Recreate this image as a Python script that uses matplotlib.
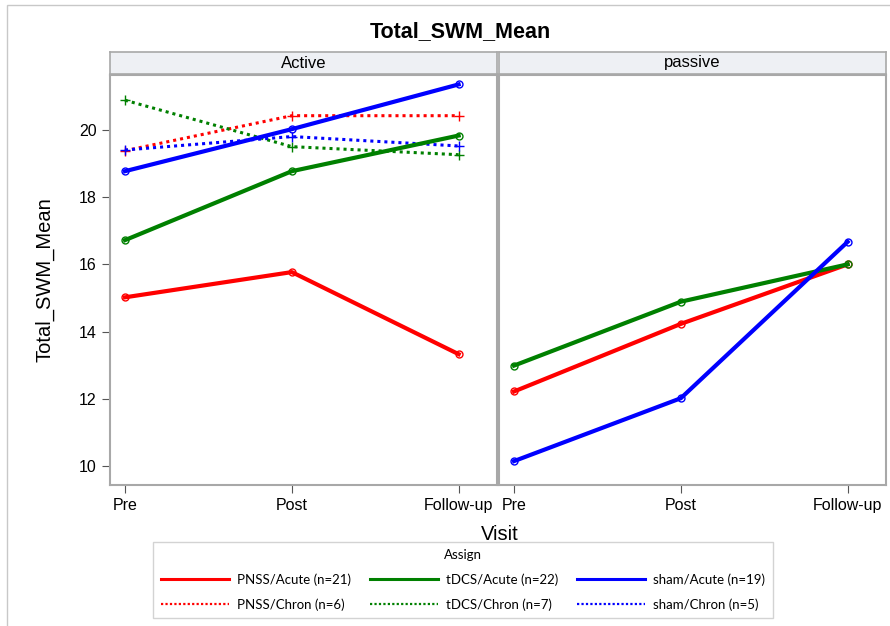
import numpy as np
import matplotlib
matplotlib.use("Agg")
import matplotlib.pyplot as plt
from matplotlib.lines import Line2D

plt.rcParams['font.family'] = ['Liberation Sans', 'DejaVu Sans']

visits = ["Pre", "Post", "Follow-up"]
panels = ["Active", "passive"]
groups = ["PNSS", "tDCS", "sham"]
group_n_acute = [21, 22, 19]
group_n_chron = [6, 7, 5]
colors = {"PNSS": "#FF0000", "tDCS": "#008000", "sham": "#0000FF"}

# Active panel
active_acute = {
    "PNSS": [15.02, 15.77, 13.33],
    "tDCS": [16.72, 18.77, 19.83],
    "sham": [18.77, 20.02, 21.35],
}
active_chron = {
    "PNSS": [19.38, 20.42, 20.42],
    "tDCS": [20.88, 19.50, 19.26],
    "sham": [19.40, 19.80, 19.52],
}
# passive panel (acute only)
passive_acute = {
    "PNSS": [12.22, 14.23, 16.00],
    "tDCS": [12.99, 14.89, 16.00],
    "sham": [10.15, 12.02, 16.67],
}

fig = plt.figure(figsize=(8.9, 6.26), dpi=100)
fig.patch.set_facecolor("white")

x = np.arange(len(visits))
plot_bottom = 1 - 485 / 626
plot_h = 410 / 626
lefts = [110 / 890, 499 / 890]
w = 387 / 890
strip_bottom = 1 - 74 / 626
strip_h = 22 / 626

axes = []
for i, name in enumerate(panels):
    ax = fig.add_axes([lefts[i], plot_bottom, w, plot_h])
    axes.append(ax)
    sax = fig.add_axes([lefts[i], strip_bottom, w, strip_h])
    sax.set_facecolor("#EEF0F4")
    sax.set_xticks([])
    sax.set_yticks([])
    for s in sax.spines.values():
        s.set_color("#A8A8A8")
        s.set_linewidth(1.2)
    sax.text(0.5, 0.5, name, ha="center", va="center", fontsize=12,
             transform=sax.transAxes)

def draw(ax, data, ls, marker, lw, ms):
    for g in groups:
        ax.plot(x, data[g], color=colors[g], linestyle=ls, linewidth=lw,
                marker=marker, markersize=ms, markerfacecolor="none",
                markeredgecolor=colors[g], markeredgewidth=1.0)

draw(axes[0], active_chron, (0, (1, 1.3)), "+", 2.2, 7)
draw(axes[0], active_acute, "-", "o", 3.0, 5)
draw(axes[1], passive_acute, "-", "o", 3.0, 5)

for i, ax in enumerate(axes):
    ax.set_xlim(-0.09, 2.23)
    ax.set_ylim(9.44, 21.63)
    ax.set_xticks(x)
    ax.set_xticklabels(visits, fontsize=11.5)
    ax.set_yticks([10, 12, 14, 16, 18, 20])
    ax.tick_params(axis="both", length=6, color="#555555", labelsize=11.5)
    for s in ax.spines.values():
        s.set_color("#A8A8A8")
        s.set_linewidth(1.5)
    if i == 1:
        ax.tick_params(axis="y", left=False, labelleft=False)

fig.text(45 / 890, 1 - 280 / 626, "Total_SWM_Mean", rotation=90,
         ha="center", va="center", fontsize=14.5)
fig.text(500 / 890, 1 - 535 / 626, "Visit", ha="center", va="center", fontsize=14.5)
fig.text(460 / 890, 1 - 32 / 626, "Total_SWM_Mean", ha="center", va="center",
         fontsize=15.5, fontweight="bold")

handles = []
labels = []
for g, na, nc in zip(groups, group_n_acute, group_n_chron):
    handles.append(Line2D([], [], color=colors[g], linestyle="-", linewidth=2.2))
    labels.append(f"{g}/Acute (n={na})")
    handles.append(Line2D([], [], color=colors[g], linestyle=(0, (1, 1)), linewidth=1.6))
    labels.append(f"{g}/Chron (n={nc})")

leg = fig.legend(handles, labels, ncol=3, title="Assign", loc="center",
                 bbox_to_anchor=(463 / 890, 1 - 580 / 626), frameon=True,
                 fancybox=False, edgecolor="#C8C8C8",
                 handlelength=5.2, handletextpad=0.6, columnspacing=1.4,
                 borderpad=0.55, labelspacing=0.95,
                 prop={"family": ["Lato", "DejaVu Sans"], "size": 9.5})
leg.get_title().set_family(["Lato", "DejaVu Sans"])
leg.get_title().set_fontsize(9.5)

# outer frame
fig.add_artist(plt.Rectangle((7 / 890, -0.01), 1.0, 1 - 5 / 626 + 0.01,
                             transform=fig.transFigure, fill=False,
                             edgecolor="#C8C8C8", linewidth=1.0))

fig.savefig("out.png", dpi=100)
